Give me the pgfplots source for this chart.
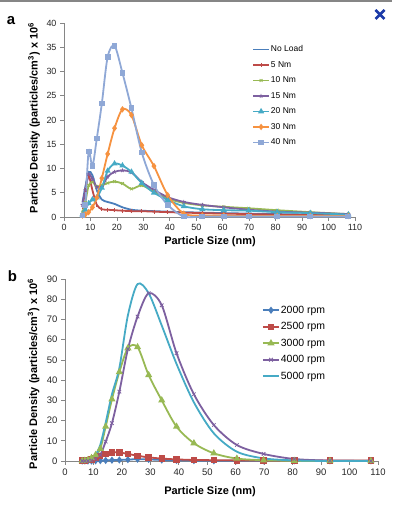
\documentclass[border=0pt]{standalone}
\usepackage{fontspec}
\setmainfont{Liberation Sans}
\usepackage{pgfplots}
\pgfplotsset{compat=1.18}
\definecolor{cNo}{HTML}{4A7EBB}
\definecolor{cRed}{HTML}{BE4B48}
\definecolor{cGreen}{HTML}{98B954}
\definecolor{cPurple}{HTML}{7D60A0}
\definecolor{cCyan}{HTML}{46AAC5}
\definecolor{cOrange}{HTML}{F69240}
\definecolor{cLight}{HTML}{8FA8D6}
\definecolor{xblue}{HTML}{1C3AA8}
\definecolor{axgray}{HTML}{868686}
\pgfplotsset{
  excel/.style={
    scale only axis,
    axis x line*=bottom, axis y line*=left,
    x axis line style={-}, y axis line style={-},
    axis line style={draw=axgray, line width=0.7bp},
    tick align=outside, major tick length=4bp,
    tick style={draw=axgray, line width=0.7bp},
    xmin=0, xmax=110, xtick={0,10,...,110},
    /pgf/number format/assume math mode=true,
    ticklabel style={text=black!85},
    clip=false,
    every axis plot/.append style={line width=1.8bp, smooth, tension=0.5},
    legend image code/.code={\draw[line width=1.8bp,mark repeat=2,mark phase=2,#1] plot coordinates {(0bp,0bp)(8bp,0bp)(16bp,0bp)};},
    legend cell align=left,
  }
}
\begin{document}
\begin{tikzpicture}[x=1bp,y=1bp]
\useasboundingbox (0,0) rectangle (392,507);
\fill[axgray] (0,505.3) rectangle (392,507);
\draw[xblue, line width=2.6bp] (375.5,497) -- (384.5,488);
\draw[xblue, line width=2.6bp] (375.5,488) -- (384.5,497);
\node[font=\fontsize{15}{15}\selectfont\bfseries, anchor=base] at (11,482) {a};
\node[font=\fontsize{15}{15}\selectfont\bfseries, anchor=base] at (12.5,225) {b};

% ---------------- top chart ----------------
\begin{axis}[excel, at={(64bp,290bp)}, anchor=south west, width=291bp, height=194bp,
  ymin=0, ymax=40, ytick={0,5,...,40},
  ticklabel style={font=\fontsize{9}{9}\selectfont},
  legend style={at={(axis description cs:0.646,0.889)}, anchor=north west, draw=none, fill=none,
    inner sep=0pt, font=\fontsize{8.5}{8.5}\selectfont, row sep=6bp,
    nodes={inner sep=1bp, text height=6bp, text depth=1.5bp}},
]
\addplot[cNo, no markers] coordinates {
(6.98,3.0)(8.06,6.2)(9.31,9.3)(10.75,8.6)(12.4,5.5)(14.3,3.6)(16.5,3.1)(19.1,2.7)(22.1,2.0)(25.5,1.5)(29.4,1.3)(34.0,1.2)(39.2,1.1)(45.3,1.0)(52.3,0.9)(60.4,0.8)(69.8,0.7)(80.6,0.6)(93.1,0.5)(107.5,0.4)};
\addlegendentry{No Load}
\addplot[cRed, mark=|, mark size=2bp, mark options={solid,line width=0.8bp}] coordinates {
(6.98,2.0)(8.06,5.5)(9.31,8.5)(10.75,5.5)(12.4,2.5)(14.3,1.6)(16.5,1.5)(19.1,1.4)(22.1,1.3)(25.5,1.2)(29.4,1.2)(34.0,1.1)(39.2,1.0)(45.3,0.9)(52.3,0.8)(60.4,0.7)(69.8,0.6)(80.6,0.5)(93.1,0.4)(107.5,0.4)};
\addlegendentry{5 Nm}
\addplot[cGreen, mark=x, mark size=2bp, mark options={solid,line width=0.8bp}] coordinates {
(6.98,1.0)(8.06,3.0)(9.31,6.5)(10.75,7.2)(12.4,6.3)(14.3,6.5)(16.5,7.0)(19.1,7.3)(22.1,6.9)(25.5,5.8)(29.4,6.5)(34.0,5.2)(39.2,3.8)(45.3,2.9)(52.3,2.4)(60.4,2.1)(69.8,1.8)(80.6,1.4)(93.1,1.0)(107.5,0.6)};
\addlegendentry{10 Nm}
\addplot[cPurple, mark=star, mark size=2bp, mark options={solid,line width=0.8bp}] coordinates {
(6.98,2.5)(8.06,5.5)(9.31,8.8)(10.75,7.8)(12.4,6.2)(14.3,6.2)(16.5,8.3)(19.1,9.3)(22.1,9.6)(25.5,9.2)(29.4,7.2)(34.0,5.6)(39.2,4.1)(45.3,3.1)(52.3,2.5)(60.4,2.0)(69.8,1.5)(80.6,1.1)(93.1,0.9)(107.5,0.6)};
\addlegendentry{15 Nm}
\addplot[cCyan, mark=triangle*, mark size=1.8bp, mark options={solid}] coordinates {
(6.98,0.5)(8.06,1.5)(9.31,2.8)(10.75,3.6)(12.4,4.0)(14.3,6.0)(16.5,9.5)(19.1,11.0)(22.1,10.6)(25.5,9.3)(29.4,7.0)(34.0,5.0)(39.2,3.5)(45.3,2.2)(52.3,1.6)(60.4,1.4)(69.8,1.3)(80.6,1.0)(93.1,0.8)(107.5,0.5)};
\addlegendentry{20 Nm}
\addplot[cOrange, mark=diamond*, mark size=1.8bp, mark options={solid}] coordinates {
(6.98,0.3)(8.06,0.5)(9.31,1.0)(10.75,2.0)(12.4,4.0)(14.3,8.0)(16.5,13.0)(19.1,18.3)(22.1,22.2)(25.5,21.0)(29.4,14.8)(34.0,10.5)(39.2,4.5)(45.3,0.7)(52.3,0.3)(60.4,0.3)(69.8,0.2)(80.6,0.2)(93.1,0.2)(107.5,0.2)};
\addlegendentry{30 Nm}
\addplot[cLight, mark=square*, mark size=2bp, mark options={solid}] coordinates {
(6.98,0.3)(8.06,2.5)(9.31,13.5)(10.75,10.5)(12.4,16.2)(14.3,23.4)(16.5,33.0)(19.1,35.3)(22.1,29.7)(25.5,22.4)(29.4,13.3)(34.0,6.6)(39.2,2.5)(45.3,0.1)(52.3,0.1)(60.4,0.1)(69.8,0.1)(80.6,0.1)(93.1,0.1)(107.5,0.1)};
\addlegendentry{40 Nm}
\end{axis}
\node[font=\fontsize{11}{11}\selectfont\bfseries, anchor=base] at (210,262) {Particle Size (nm)};
\node[font=\fontsize{11}{11}\selectfont\bfseries, anchor=base, rotate=90] at (37.5,389) {Particle Density (particles/cm\textsuperscript{3}) x 10\textsuperscript{6}};

% ---------------- bottom chart ----------------
\begin{axis}[excel, at={(65bp,46bp)}, anchor=south west, width=313bp, height=182bp,
  ymin=0, ymax=90, ytick={0,10,...,90},
  ticklabel style={font=\fontsize{9.5}{9.5}\selectfont},
  legend style={at={(axis description cs:0.629,0.861)}, anchor=north west, draw=none, fill=none,
    inner sep=0pt, font=\fontsize{10.5}{10.5}\selectfont, row sep=5bp,
    nodes={inner sep=1bp, text height=7.5bp, text depth=2bp}},
]
\addplot[cNo, mark=diamond*, mark size=2.2bp, mark options={solid}] coordinates {
(6.04,0)(6.98,0)(8.06,0)(9.31,0)(10.75,0.1)(12.4,0.2)(14.3,0.3)(16.5,0.4)(19.1,0.5)(22.1,0.7)(25.5,0.9)(29.4,0.8)(34.0,0.5)(39.2,0.3)(45.3,0.2)(52.3,0.1)(60.4,0.1)(69.8,0.1)(80.6,0.1)(93.1,0.1)(107.5,0.1)};
\addlegendentry{2000 rpm}
\addplot[cRed, mark=square*, mark size=2.3bp, mark options={solid}] coordinates {
(6.04,0.3)(6.98,0.3)(8.06,0.4)(9.31,0.7)(10.75,1.5)(12.4,2.5)(14.3,3.5)(16.5,4.3)(19.1,4.2)(22.1,3.5)(25.5,2.6)(29.4,1.8)(34.0,1.2)(39.2,0.8)(45.3,0.5)(52.3,0.4)(60.4,0.3)(69.8,0.2)(80.6,0.2)(93.1,0.2)(107.5,0.2)};
\addlegendentry{2500 rpm}
\addplot[cGreen, mark=triangle*, mark size=2.4bp, mark options={solid}] coordinates {
(6.04,0)(6.98,0.2)(8.06,0.5)(9.31,1.5)(10.75,3.0)(12.4,6.0)(14.3,17.0)(16.5,30.5)(19.1,44.0)(22.1,55.8)(25.5,56.3)(29.4,42.5)(34.0,30.0)(39.2,17.0)(45.3,8.8)(52.3,3.8)(60.4,1.2)(69.8,0.4)(80.6,0.1)(93.1,0)(107.5,0)};
\addlegendentry{3000 rpm}
\addplot[cPurple, mark=x, mark size=2.5bp, mark options={solid,line width=0.8bp}] coordinates {
(6.04,0)(6.98,0)(8.06,0)(9.31,0.3)(10.75,1.0)(12.4,3.0)(14.3,9.6)(16.5,18.7)(19.1,34.3)(22.1,55.3)(25.5,71.4)(29.4,83.0)(34.0,77.0)(39.2,53.3)(45.3,33.0)(52.3,17.8)(60.4,7.9)(69.8,3.5)(80.6,1.0)(93.1,0.2)(107.5,0)};
\addlegendentry{4000 rpm}
\addplot[cCyan, no markers] coordinates {
(6.04,0)(6.98,0)(8.06,0.2)(9.31,1.0)(10.75,3.0)(12.4,8.0)(14.3,19.0)(16.5,33.0)(19.1,46.0)(22.1,72.0)(25.5,87.5)(29.4,83.0)(34.0,67.0)(39.2,48.0)(45.3,29.0)(52.3,13.7)(60.4,4.6)(69.8,1.3)(80.6,0.3)(93.1,0)(107.5,0)};
\addlegendentry{5000 rpm}
\end{axis}
\node[font=\fontsize{11}{11}\selectfont\bfseries, anchor=base] at (210,12) {Particle Size (nm)};
\node[font=\fontsize{11}{11}\selectfont\bfseries, anchor=base, rotate=90] at (37,133) {Particle Density (particles/cm\textsuperscript{3}) x 10\textsuperscript{6}};
\end{tikzpicture}
\end{document}
